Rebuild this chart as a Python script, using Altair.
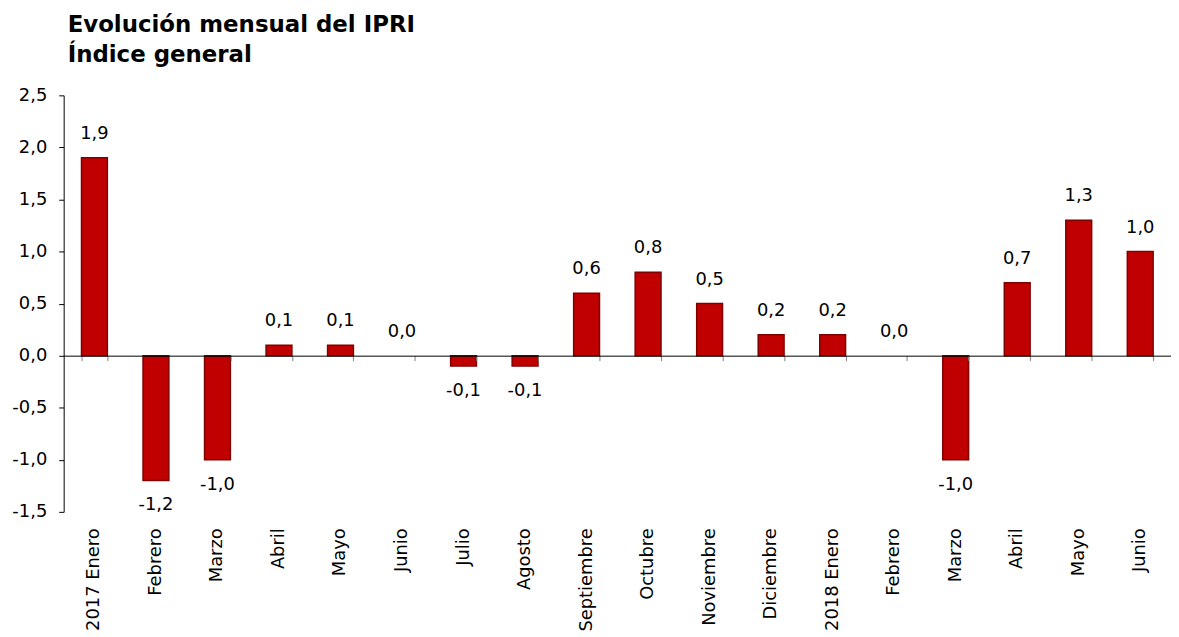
import altair as alt
import pandas as pd

keys = ["01", "02", "03", "04", "05", "06", "07", "08", "09", "10", "11", "12",
        "13", "14", "15", "16", "17", "18"]
months = ["2017 Enero", "Febrero", "Marzo", "Abril", "Mayo", "Junio", "Julio",
          "Agosto", "Septiembre", "Octubre", "Noviembre", "Diciembre",
          "2018 Enero", "Febrero", "Marzo", "Abril", "Mayo", "Junio"]
values = [1.9, -1.2, -1.0, 0.1, 0.1, 0.0, -0.1, -0.1, 0.6, 0.8, 0.5, 0.2,
          0.2, 0.0, -1.0, 0.7, 1.3, 1.0]
y_ticks = [-1.5, -1.0, -0.5, 0.0, 0.5, 1.0, 1.5, 2.0, 2.5]

df = pd.DataFrame({"cat": [k + "|" + m for k, m in zip(keys, months)], "v": values})

FONT = "DejaVu Sans"
W, H = 1114, 419
zero_from_bottom = H * 1.5 / 4.0

xscale = alt.Scale(paddingInner=0.58, paddingOuter=0.29)
yscale = alt.Scale(domain=[-1.5, 2.5], nice=False, zero=False)

base = alt.Chart(df).transform_calculate(
    lab="(datum.v < 0 ? '-' : '') + replace(format(abs(datum.v), '.1f'), '.', ',')"
)

bars = base.mark_bar(color="#C00000", stroke="#7F0000", strokeWidth=1.5).encode(
    x=alt.X("cat:N", sort=None, scale=xscale, title=None,
            axis=alt.Axis(orient="bottom", labelExpr="split(datum.value, '|')[1]",
                          labelAngle=-90, labelAlign="right", labelBaseline="middle",
                          labelPadding=16, labelFont=FONT, labelFontSize=18,
                          labelColor="black", domain=False, ticks=False, grid=False)),
    y=alt.Y("v:Q", scale=yscale, title=None,
            axis=alt.Axis(values=y_ticks, grid=False, domainColor="black",
                          tickColor="black", tickSize=5, labelPadding=12,
                          labelFont=FONT, labelFontSize=18, labelColor="black",
                          labelExpr="replace(replace(format(datum.value, '.1f'), '.', ','), '\u2212', '-')")),
    strokeOpacity=alt.condition("datum.v == 0", alt.value(0), alt.value(1)),
)

zero_axis = alt.Axis(orient="bottom", offset=-zero_from_bottom, labels=False,
                     domain=True, domainColor="black", domainWidth=1,
                     ticks=True, tickBand="extent", tickColor="#808080",
                     tickSize=5, grid=False, title=None, zindex=1)

pos = base.transform_filter("datum.v >= 0").mark_text(
    font=FONT, fontSize=18, color="black", baseline="middle", dy=-24
).encode(
    x=alt.X("cat:N", sort=None, scale=xscale, axis=zero_axis, title=None),
    y=alt.Y("v:Q", scale=yscale),
    text="lab:N",
)

neg = base.transform_filter("datum.v < 0").mark_text(
    font=FONT, fontSize=18, color="black", baseline="middle", dy=25
).encode(
    x=alt.X("cat:N", sort=None, scale=xscale, axis=None),
    y=alt.Y("v:Q", scale=yscale),
    text="lab:N",
)

chart = alt.layer(bars, pos, neg).resolve_axis(x="independent").properties(
    width=W, height=H,
    autosize=alt.AutoSizeParams(type="none"),
    padding={"left": 56, "top": 86, "right": 0, "bottom": 120},
    title=alt.Title(["Evolución mensual del IPRI", "Índice general"],
                    anchor="start", frame="group", font=FONT, fontSize=23,
                    fontWeight="bold", color="black", dx=4, offset=20,
                    lineHeight=30),
).configure_view(stroke=None)

chart.save("out.html", embed_options={"renderer": "svg", "actions": False})
